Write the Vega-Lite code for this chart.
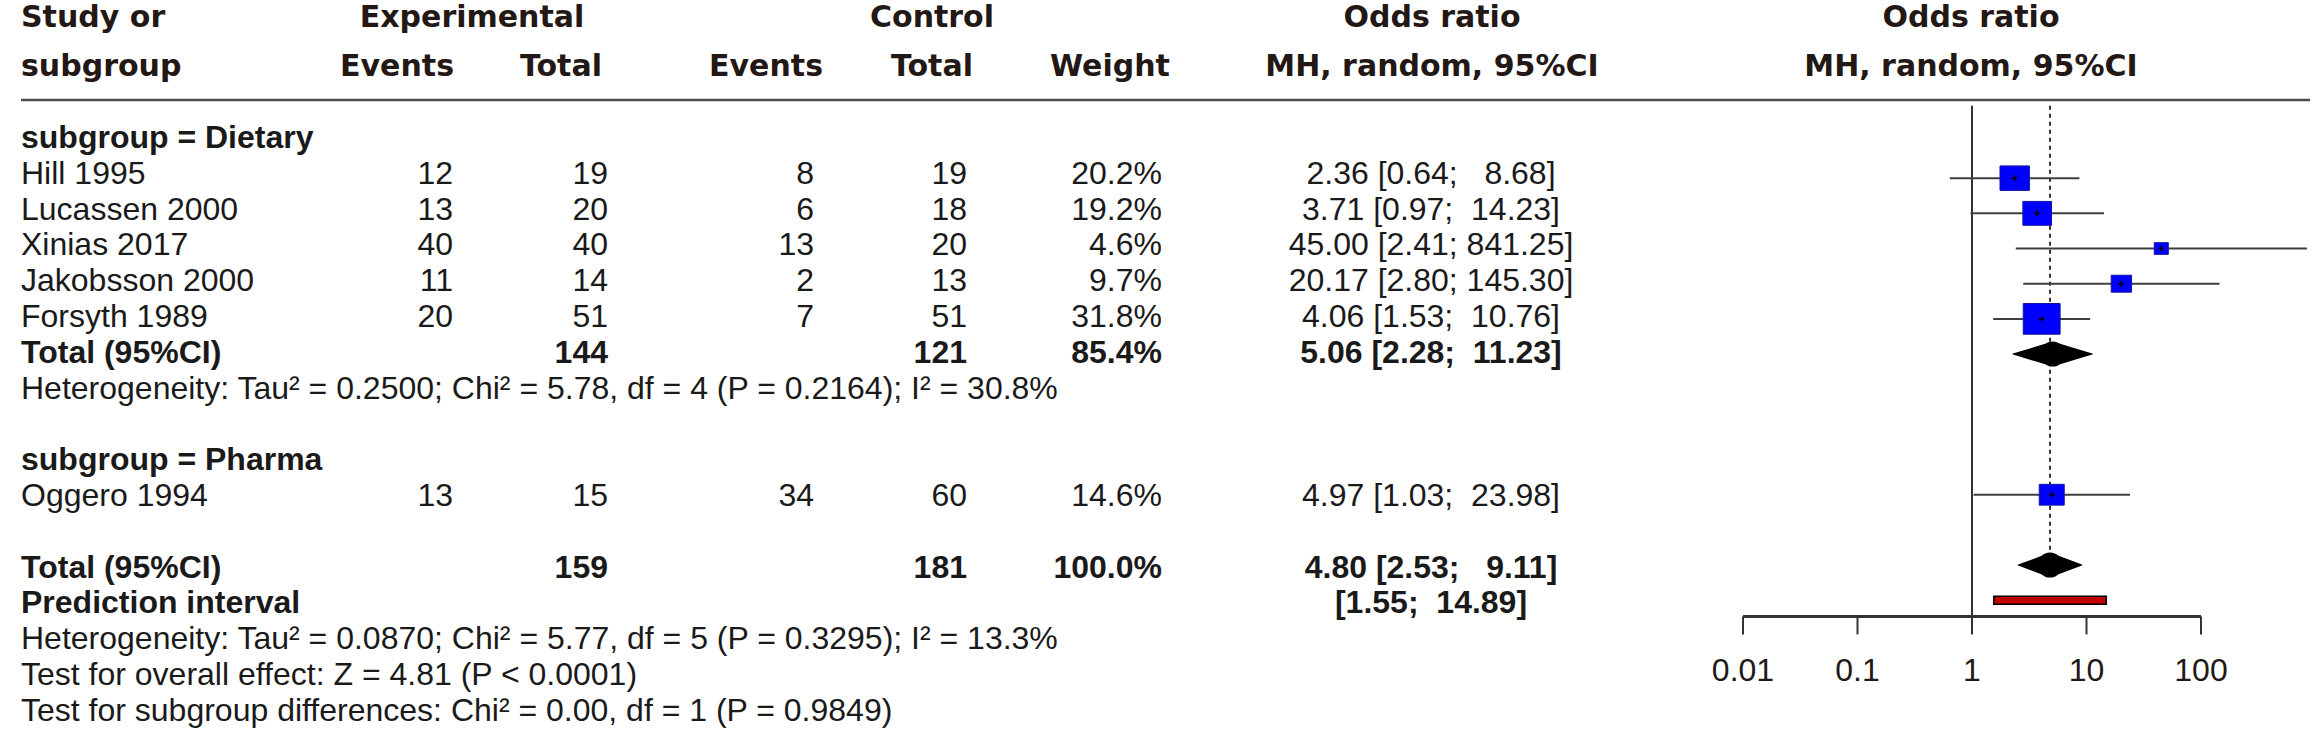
{
"$schema": "https://vega.github.io/schema/vega-lite/v6.json",
"width": 2315, "height": 739, "autosize": "none", "padding": 0, "background": "#ffffff",
"config": {"view": {"stroke": null}, "text": {"font": "Liberation Sans", "fontSize": 32, "baseline": "middle", "color": "#1a1a1a"}},
"datasets": {
"rows": [
{"r": 0, "study": "subgroup = Dietary", "kind": "group"},
{"r": 1, "study": "Hill 1995", "e_ev": 12, "e_tot": 19, "c_ev": 8, "c_tot": 19, "w": 0.202, "ci": "2.36 [0.64;\u00a0\u00a0\u00a08.68]", "est": 2.36, "lo": 0.64, "hi": 8.68, "kind": "study"},
{"r": 2, "study": "Lucassen 2000", "e_ev": 13, "e_tot": 20, "c_ev": 6, "c_tot": 18, "w": 0.192, "ci": "3.71 [0.97;\u00a0\u00a014.23]", "est": 3.71, "lo": 0.97, "hi": 14.23, "kind": "study"},
{"r": 3, "study": "Xinias 2017", "e_ev": 40, "e_tot": 40, "c_ev": 13, "c_tot": 20, "w": 0.046, "ci": "45.00 [2.41; 841.25]", "est": 45.0, "lo": 2.41, "hi": 841.25, "kind": "study"},
{"r": 4, "study": "Jakobsson 2000", "e_ev": 11, "e_tot": 14, "c_ev": 2, "c_tot": 13, "w": 0.097, "ci": "20.17 [2.80; 145.30]", "est": 20.17, "lo": 2.8, "hi": 145.3, "kind": "study"},
{"r": 5, "study": "Forsyth 1989", "e_ev": 20, "e_tot": 51, "c_ev": 7, "c_tot": 51, "w": 0.318, "ci": "4.06 [1.53;\u00a0\u00a010.76]", "est": 4.06, "lo": 1.53, "hi": 10.76, "kind": "study"},
{"r": 6, "study": "Total (95%CI)", "e_tot": 144, "c_tot": 121, "w": 0.854, "ci": "5.06 [2.28;\u00a0\u00a011.23]", "est": 5.06, "lo": 2.28, "hi": 11.23, "kind": "total", "scope": "subgroup"},
{"r": 7, "study": "Heterogeneity: Tau² = 0.2500; Chi² = 5.78, df = 4 (P = 0.2164); I² = 30.8%", "kind": "note"},
{"r": 9, "study": "subgroup = Pharma", "kind": "group"},
{"r": 10, "study": "Oggero 1994", "e_ev": 13, "e_tot": 15, "c_ev": 34, "c_tot": 60, "w": 0.146, "ci": "4.97 [1.03;\u00a0\u00a023.98]", "est": 4.97, "lo": 1.03, "hi": 23.98, "kind": "study"},
{"r": 12, "study": "Total (95%CI)", "e_tot": 159, "c_tot": 181, "w": 1.0, "ci": "4.80 [2.53;\u00a0\u00a0\u00a09.11]", "est": 4.8, "lo": 2.53, "hi": 9.11, "kind": "total", "scope": "overall"},
{"r": 13, "study": "Prediction interval", "ci": "[1.55;\u00a0\u00a014.89]", "lo": 1.55, "hi": 14.89, "kind": "pred"},
{"r": 14, "study": "Heterogeneity: Tau² = 0.0870; Chi² = 5.77, df = 5 (P = 0.3295); I² = 13.3%", "kind": "note"},
{"r": 15, "study": "Test for overall effect: Z = 4.81 (P < 0.0001)", "kind": "note"},
{"r": 16, "study": "Test for subgroup differences: Chi² = 0.00, df = 1 (P = 0.9849)", "kind": "note"}
],
"heads": [
{"t": "Study or", "line": 1, "c": 0},
{"t": "subgroup", "line": 2, "c": 0},
{"t": "Experimental", "line": 1, "c": 2},
{"t": "Events", "line": 2, "c": 1},
{"t": "Total", "line": 2, "c": 3},
{"t": "Control", "line": 1, "c": 5},
{"t": "Events", "line": 2, "c": 4},
{"t": "Total", "line": 2, "c": 5},
{"t": "Weight", "line": 2, "c": 6},
{"t": "Odds ratio", "line": 1, "c": 7},
{"t": "MH, random, 95%CI", "line": 2, "c": 7},
{"t": "Odds ratio", "line": 1, "c": 8},
{"t": "MH, random, 95%CI", "line": 2, "c": 8}
],
"ticks": [{"v": 0.01}, {"v": 0.1}, {"v": 1}, {"v": 10}, {"v": 100}],
"nullline": [{"or_null": 1}]
},
"layer": [
{"layer": [
{"data": {"name": "nullline"}, "mark": {"type": "rule", "color": "#4d4d4d", "strokeWidth": 2.5},
 "encoding": {"x": {"datum": 0, "type": "quantitative", "scale": {"domain": [0,1,2,3,4,5,6], "range": [21,453,608,814,967,1162,1431], "nice": false, "zero": false}, "axis": null}, "x2": {"datum": 9.268},
  "y": {"datum": -1.06, "type": "quantitative", "scale": {"domain": [0,16], "range": [138,710.8], "nice": false, "zero": false}, "axis": null}}},
{"data": {"name": "rows"}, "transform": [{"filter": "datum.kind == 'study' || datum.kind == 'note'"}], "mark": {"type": "text", "align": "left"},
 "encoding": {"x": {"datum": 0, "type": "quantitative", "scale": {"domain": [0,1,2,3,4,5,6], "range": [21,453,608,814,967,1162,1431], "nice": false, "zero": false}, "axis": null}, "y": {"field": "r", "type": "quantitative", "scale": {"domain": [0,16], "range": [138,710.8], "nice": false, "zero": false}, "axis": null}, "text": {"field": "study"}}},
{"data": {"name": "rows"}, "transform": [{"filter": "datum.kind == 'group' || datum.kind == 'total' || datum.kind == 'pred'"}], "mark": {"type": "text", "align": "left", "fontWeight": "bold"},
 "encoding": {"x": {"datum": 0, "type": "quantitative", "scale": {"domain": [0,1,2,3,4,5,6], "range": [21,453,608,814,967,1162,1431], "nice": false, "zero": false}, "axis": null}, "y": {"field": "r", "type": "quantitative", "scale": {"domain": [0,16], "range": [138,710.8], "nice": false, "zero": false}, "axis": null}, "text": {"field": "study"}}},
{"data": {"name": "rows"}, "transform": [{"filter": "datum.kind == 'study'"}], "mark": {"type": "text", "align": "right"},
 "encoding": {"x": {"datum": 1, "type": "quantitative", "scale": {"domain": [0,1,2,3,4,5,6], "range": [21,453,608,814,967,1162,1431], "nice": false, "zero": false}, "axis": null}, "y": {"field": "r", "type": "quantitative", "scale": {"domain": [0,16], "range": [138,710.8], "nice": false, "zero": false}, "axis": null}, "text": {"field": "e_ev", "type": "quantitative", "format": "d"}}},
{"data": {"name": "rows"}, "transform": [{"filter": "datum.kind == 'study'"}], "mark": {"type": "text", "align": "right"},
 "encoding": {"x": {"datum": 2, "type": "quantitative", "scale": {"domain": [0,1,2,3,4,5,6], "range": [21,453,608,814,967,1162,1431], "nice": false, "zero": false}, "axis": null}, "y": {"field": "r", "type": "quantitative", "scale": {"domain": [0,16], "range": [138,710.8], "nice": false, "zero": false}, "axis": null}, "text": {"field": "e_tot", "type": "quantitative", "format": "d"}}},
{"data": {"name": "rows"}, "transform": [{"filter": "datum.kind == 'total'"}], "mark": {"type": "text", "align": "right", "fontWeight": "bold"},
 "encoding": {"x": {"datum": 2, "type": "quantitative", "scale": {"domain": [0,1,2,3,4,5,6], "range": [21,453,608,814,967,1162,1431], "nice": false, "zero": false}, "axis": null}, "y": {"field": "r", "type": "quantitative", "scale": {"domain": [0,16], "range": [138,710.8], "nice": false, "zero": false}, "axis": null}, "text": {"field": "e_tot", "type": "quantitative", "format": "d"}}},
{"data": {"name": "rows"}, "transform": [{"filter": "datum.kind == 'study'"}], "mark": {"type": "text", "align": "right"},
 "encoding": {"x": {"datum": 3, "type": "quantitative", "scale": {"domain": [0,1,2,3,4,5,6], "range": [21,453,608,814,967,1162,1431], "nice": false, "zero": false}, "axis": null}, "y": {"field": "r", "type": "quantitative", "scale": {"domain": [0,16], "range": [138,710.8], "nice": false, "zero": false}, "axis": null}, "text": {"field": "c_ev", "type": "quantitative", "format": "d"}}},
{"data": {"name": "rows"}, "transform": [{"filter": "datum.kind == 'study'"}], "mark": {"type": "text", "align": "right"},
 "encoding": {"x": {"datum": 4, "type": "quantitative", "scale": {"domain": [0,1,2,3,4,5,6], "range": [21,453,608,814,967,1162,1431], "nice": false, "zero": false}, "axis": null}, "y": {"field": "r", "type": "quantitative", "scale": {"domain": [0,16], "range": [138,710.8], "nice": false, "zero": false}, "axis": null}, "text": {"field": "c_tot", "type": "quantitative", "format": "d"}}},
{"data": {"name": "rows"}, "transform": [{"filter": "datum.kind == 'total'"}], "mark": {"type": "text", "align": "right", "fontWeight": "bold"},
 "encoding": {"x": {"datum": 4, "type": "quantitative", "scale": {"domain": [0,1,2,3,4,5,6], "range": [21,453,608,814,967,1162,1431], "nice": false, "zero": false}, "axis": null}, "y": {"field": "r", "type": "quantitative", "scale": {"domain": [0,16], "range": [138,710.8], "nice": false, "zero": false}, "axis": null}, "text": {"field": "c_tot", "type": "quantitative", "format": "d"}}},
{"data": {"name": "rows"}, "transform": [{"filter": "datum.kind == 'study'"}], "mark": {"type": "text", "align": "right"},
 "encoding": {"x": {"datum": 5, "type": "quantitative", "scale": {"domain": [0,1,2,3,4,5,6], "range": [21,453,608,814,967,1162,1431], "nice": false, "zero": false}, "axis": null}, "y": {"field": "r", "type": "quantitative", "scale": {"domain": [0,16], "range": [138,710.8], "nice": false, "zero": false}, "axis": null}, "text": {"field": "w", "type": "quantitative", "format": ".1%"}}},
{"data": {"name": "rows"}, "transform": [{"filter": "datum.kind == 'total'"}], "mark": {"type": "text", "align": "right", "fontWeight": "bold"},
 "encoding": {"x": {"datum": 5, "type": "quantitative", "scale": {"domain": [0,1,2,3,4,5,6], "range": [21,453,608,814,967,1162,1431], "nice": false, "zero": false}, "axis": null}, "y": {"field": "r", "type": "quantitative", "scale": {"domain": [0,16], "range": [138,710.8], "nice": false, "zero": false}, "axis": null}, "text": {"field": "w", "type": "quantitative", "format": ".1%"}}},
{"data": {"name": "rows"}, "transform": [{"filter": "datum.kind == 'study'"}], "mark": {"type": "text", "align": "center"},
 "encoding": {"x": {"datum": 6, "type": "quantitative", "scale": {"domain": [0,1,2,3,4,5,6], "range": [21,453,608,814,967,1162,1431], "nice": false, "zero": false}, "axis": null}, "y": {"field": "r", "type": "quantitative", "scale": {"domain": [0,16], "range": [138,710.8], "nice": false, "zero": false}, "axis": null}, "text": {"field": "ci"}}},
{"data": {"name": "rows"}, "transform": [{"filter": "datum.kind == 'total' || datum.kind == 'pred'"}], "mark": {"type": "text", "align": "center", "fontWeight": "bold"},
 "encoding": {"x": {"datum": 6, "type": "quantitative", "scale": {"domain": [0,1,2,3,4,5,6], "range": [21,453,608,814,967,1162,1431], "nice": false, "zero": false}, "axis": null}, "y": {"field": "r", "type": "quantitative", "scale": {"domain": [0,16], "range": [138,710.8], "nice": false, "zero": false}, "axis": null}, "text": {"field": "ci"}}}
]},
{"layer": [
{"data": {"name": "heads"}, "transform": [{"filter": "datum.c == 0"}], "mark": {"type": "text", "align": "left", "font": "DejaVu Sans", "fontWeight": "bold", "fontSize": 30, "color": "#231815"},
 "encoding": {"x": {"field": "c", "type": "quantitative", "scale": {"domain": [0,1,2,3,4,5,6,7,8], "range": [21,397,472,561,766,932,1110,1432,1971], "nice": false, "zero": false}, "axis": null}, "y": {"field": "line", "type": "quantitative", "scale": {"domain": [1,2], "range": [18,67], "nice": false, "zero": false}, "axis": null}, "text": {"field": "t"}}},
{"data": {"name": "heads"}, "transform": [{"filter": "datum.c > 0"}], "mark": {"type": "text", "align": "center", "font": "DejaVu Sans", "fontWeight": "bold", "fontSize": 30, "color": "#231815"},
 "encoding": {"x": {"field": "c", "type": "quantitative", "scale": {"domain": [0,1,2,3,4,5,6,7,8], "range": [21,397,472,561,766,932,1110,1432,1971], "nice": false, "zero": false}, "axis": null}, "y": {"field": "line", "type": "quantitative", "scale": {"domain": [1,2], "range": [18,67], "nice": false, "zero": false}, "axis": null}, "text": {"field": "t"}}}
]},
{"layer": [
{"data": {"name": "nullline"}, "mark": {"type": "rule", "color": "#000000", "strokeWidth": 1.6},
 "encoding": {"x": {"field": "or_null", "type": "quantitative", "scale": {"type": "log", "domain": [0.01, 100], "range": [1743, 2201], "nice": false}, "axis": null},
  "y": {"datum": -1.06, "type": "quantitative", "scale": {"domain": [0,16], "range": [138,710.8], "nice": false, "zero": false}, "axis": null}, "y2": {"datum": 13.46}}},
{"data": {"name": "rows"}, "transform": [{"filter": "datum.scope == 'overall'"}], "mark": {"type": "rule", "color": "#000000", "strokeWidth": 1.6, "strokeDash": [4, 4]},
 "encoding": {"x": {"field": "est", "type": "quantitative", "scale": {"type": "log", "domain": [0.01, 100], "range": [1743, 2201], "nice": false}, "axis": null},
  "y": {"datum": -1.06, "type": "quantitative", "scale": {"domain": [0,16], "range": [138,710.8], "nice": false, "zero": false}, "axis": null}, "y2": {"datum": 11.68}}},
{"data": {"name": "rows"}, "transform": [{"filter": "datum.kind == 'study'"}], "mark": {"type": "rule", "color": "#404040", "strokeWidth": 2},
 "encoding": {"x": {"field": "lo", "type": "quantitative", "scale": {"type": "log", "domain": [0.01, 100], "range": [1743, 2201], "nice": false}, "axis": null}, "x2": {"field": "hi"},
  "y": {"field": "r", "type": "quantitative", "scale": {"domain": [0,16], "range": [138,710.8], "nice": false, "zero": false}, "axis": null}}},
{"data": {"name": "rows"}, "transform": [{"filter": "datum.kind == 'study'"}], "mark": {"type": "point", "shape": "M-1.2,-1L1.2,-1L1.2,1L-1.2,1Z", "filled": true, "fill": "#0000ff", "stroke": "#1414a0", "strokeWidth": 1, "opacity": 1},
 "encoding": {"x": {"field": "est", "type": "quantitative", "scale": {"type": "log", "domain": [0.01, 100], "range": [1743, 2201], "nice": false}, "axis": null},
  "y": {"field": "r", "type": "quantitative", "scale": {"domain": [0,16], "range": [138,710.8], "nice": false, "zero": false}, "axis": null},
  "size": {"field": "w", "type": "quantitative", "scale": {"domain": [0, 1], "range": [0, 2970]}, "legend": null}}},
{"data": {"name": "rows"}, "transform": [{"filter": "datum.kind == 'study'"}], "mark": {"type": "point", "shape": "M-1,0L1,0M0,-1L0,1", "filled": false, "stroke": "#000000", "strokeWidth": 1.5, "size": 36, "opacity": 1},
 "encoding": {"x": {"field": "est", "type": "quantitative", "scale": {"type": "log", "domain": [0.01, 100], "range": [1743, 2201], "nice": false}, "axis": null},
  "y": {"field": "r", "type": "quantitative", "scale": {"domain": [0,16], "range": [138,710.8], "nice": false, "zero": false}, "axis": null}}},
{"data": {"name": "rows"}, "transform": [{"filter": "datum.kind == 'total'"}, {"fold": ["lo", "est", "hi"], "as": ["pt", "v"]}], "mark": {"type": "trail", "color": "#000000"},
 "encoding": {"x": {"field": "v", "type": "quantitative", "scale": {"type": "log", "domain": [0.01, 100], "range": [1743, 2201], "nice": false}, "axis": null},
  "y": {"field": "r", "type": "quantitative", "scale": {"domain": [0,16], "range": [138,710.8], "nice": false, "zero": false}, "axis": null},
  "detail": {"field": "r"}, "order": {"field": "v", "type": "quantitative"},
  "size": {"field": "pt", "type": "nominal", "scale": {"type": "ordinal", "domain": ["lo", "est", "hi"], "range": [0, 25, 0]}, "legend": null}}},
{"data": {"name": "rows"}, "transform": [{"filter": "datum.kind == 'pred'"}], "mark": {"type": "bar", "size": 8, "fill": "#c00000", "stroke": "#000000", "strokeWidth": 1.5},
 "encoding": {"x": {"field": "lo", "type": "quantitative", "scale": {"type": "log", "domain": [0.01, 100], "range": [1743, 2201], "nice": false}, "axis": null}, "x2": {"field": "hi"},
  "y": {"field": "r", "type": "quantitative", "scale": {"domain": [0,16], "range": [138,710.8], "nice": false, "zero": false}, "axis": null}}},
{"data": {"name": "ticks"}, "transform": [{"aggregate": [{"op": "min", "field": "v", "as": "vmin"}, {"op": "max", "field": "v", "as": "vmax"}]}], "mark": {"type": "rule", "color": "#333333", "strokeWidth": 3},
 "encoding": {"x": {"field": "vmin", "type": "quantitative", "scale": {"type": "log", "domain": [0.01, 100], "range": [1743, 2201], "nice": false}, "axis": null}, "x2": {"field": "vmax"},
  "y": {"datum": 13.46, "type": "quantitative", "scale": {"domain": [0,16], "range": [138,710.8], "nice": false, "zero": false}, "axis": null}}},
{"data": {"name": "ticks"}, "mark": {"type": "rule", "color": "#333333", "strokeWidth": 2},
 "encoding": {"x": {"field": "v", "type": "quantitative", "scale": {"type": "log", "domain": [0.01, 100], "range": [1743, 2201], "nice": false}, "axis": null},
  "y": {"datum": 13.46, "type": "quantitative", "scale": {"domain": [0,16], "range": [138,710.8], "nice": false, "zero": false}, "axis": null}, "y2": {"datum": 13.97}}},
{"data": {"name": "ticks"}, "mark": {"type": "text", "align": "center", "fontSize": 32, "color": "#231815"},
 "encoding": {"x": {"field": "v", "type": "quantitative", "scale": {"type": "log", "domain": [0.01, 100], "range": [1743, 2201], "nice": false}, "axis": null},
  "y": {"datum": 15.0, "type": "quantitative", "scale": {"domain": [0,16], "range": [138,710.8], "nice": false, "zero": false}, "axis": null},
  "text": {"field": "v", "type": "quantitative", "format": "~g"}}}
], "resolve": {"scale": {"size": "independent"}}}
],
"resolve": {"scale": {"x": "independent", "y": "independent"}}
}
